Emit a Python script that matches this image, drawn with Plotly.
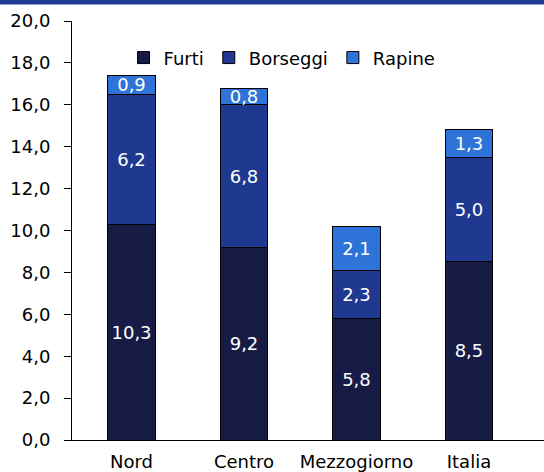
import plotly.graph_objects as go

aree = ["Nord", "Centro", "Mezzogiorno", "Italia"]
furti = [10.3, 9.2, 5.8, 8.5]
borseggi = [6.2, 6.8, 2.3, 5.0]
rapine = [0.9, 0.8, 2.1, 1.3]
tick_vals = [0, 2, 4, 6, 8, 10, 12, 14, 16, 18, 20]
tick_text = ["0,0", "2,0", "4,0", "6,0", "8,0", "10,0", "12,0", "14,0", "16,0", "18,0", "20,0"]

font = "DejaVu Sans"
serie = [("Furti", furti, "#171c47"), ("Borseggi", borseggi, "#1f3990"), ("Rapine", rapine, "#2e74d8")]

fig = go.Figure()
for nome, vals, col in serie:
    fig.add_trace(go.Bar(
        x=aree, y=vals, name=nome,
        marker=dict(color=col, line=dict(color="black", width=1)),
        width=0.42,
        text=[f"{v:.1f}".replace(".", ",") for v in vals],
        textposition="inside", insidetextanchor="middle", textangle=0,
        textfont=dict(color="white", size=18, family=font),
    ))

fig.update_layout(
    barmode="stack",
    width=544, height=472,
    margin=dict(l=72, r=0, t=21, b=32),
    plot_bgcolor="white", paper_bgcolor="white",
    font=dict(family=font, size=18, color="black"),
    uniformtext=dict(minsize=18, mode="show"),
    legend=dict(orientation="h", x=0.445, y=0.912, xanchor="center", yanchor="middle",
                font=dict(size=18), traceorder="normal", itemwidth=30,
                bgcolor="rgba(0,0,0,0)"),
    # barra blu in alto (titolo tagliato)
    shapes=[dict(type="rect", xref="paper", yref="paper", x0=-0.2, x1=1.0,
                 y0=1 + 16.5 / 419, y1=1.08, fillcolor="#1f3a93", line_width=0,
                 layer="above")],
)
fig.update_xaxes(range=[-0.529, 3.667], showline=True, linecolor="black", linewidth=1,
                 ticks="", tickfont=dict(size=18), ticklabelstandoff=5)
fig.update_yaxes(range=[0, 20], tickvals=tick_vals, ticktext=tick_text, showgrid=False,
                 showline=True, linecolor="black", linewidth=1, ticks="outside",
                 ticklen=7, tickcolor="black", zeroline=False, ticklabelstandoff=10)

fig.write_html("out.html", config={"displayModeBar": False},
               post_script="document.body.style.margin='0';")
